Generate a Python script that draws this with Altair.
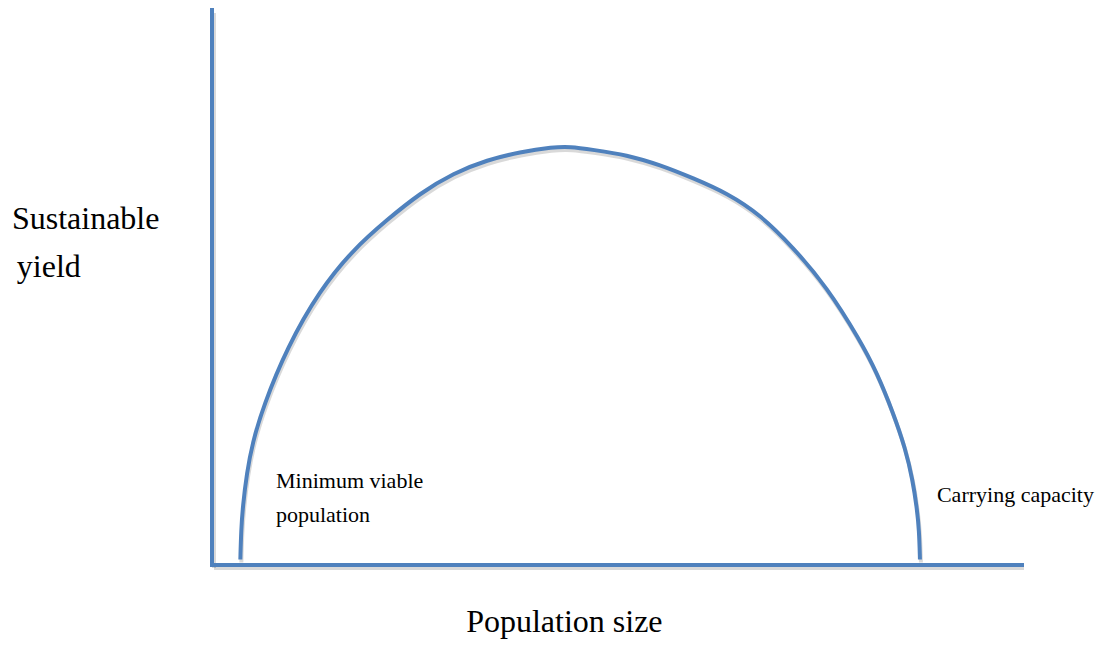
import altair as alt
import pandas as pd

# Yield curve (population size units, sustainable yield units)
pop_size = [3.5, 3.6, 3.8, 4.3, 5.0, 6.3, 9.3, 13.3, 17.4, 21.6, 25.7, 29.8, 34.0, 38.0,
            42.1, 44.2, 47.0, 51.2, 55.3, 59.4, 63.6, 67.7, 71.7, 75.9, 80.0, 82.1, 84.1,
            85.6, 86.5, 87.0, 87.3, 87.4]
sus_yield = [1.0, 6.3, 10.5, 16.6, 22.0, 28.5, 39.3, 49.5, 56.8, 62.2, 67.0, 70.6, 73.0,
             74.4, 75.3, 75.4, 74.8, 73.9, 72.1, 69.7, 67.0, 63.1, 57.3, 50.1, 40.5, 34.6,
             27.4, 21.0, 15.3, 10.5, 6.3, 1.0]

# Axis extents
x_max = 100
y_max = 100

# Annotations
label_text = ["Sustainable", "yield", "Population size", "Minimum viable", "population",
              "Carrying capacity"]
label_x = [-24.7, -24.1, 43.5, 7.9, 7.9, 89.5]
label_y = [60.5, 51.9, -12.1, 13.9, 7.7, 11.4]
label_size = [32, 32, 32, 22, 22, 22]
label_align = ["left", "left", "center", "left", "left", "left"]

BLUE = "#4f81bd"
FONT = "Liberation Serif"

curve = pd.DataFrame({"x": pop_size, "y": sus_yield, "i": range(len(pop_size))})
xs = alt.Scale(domain=[0, x_max])
ys = alt.Scale(domain=[0, y_max])

shadow_curve = alt.Chart(curve).mark_line(
    color="#000000", opacity=0.15, strokeWidth=4, xOffset=1, yOffset=3, interpolate="basis"
).encode(x=alt.X("x:Q", scale=xs, axis=None), y=alt.Y("y:Q", scale=ys, axis=None), order="i:Q")

line = alt.Chart(curve).mark_line(
    color=BLUE, strokeWidth=4, interpolate="basis"
).encode(x=alt.X("x:Q", scale=xs, axis=None), y=alt.Y("y:Q", scale=ys, axis=None), order="i:Q")

axes_df = pd.DataFrame({"x": [0, 0], "x2": [0, x_max], "y": [0, 0], "y2": [y_max, 0]})
shadow_axes = alt.Chart(axes_df).mark_rule(
    color="#000000", opacity=0.15, strokeWidth=4, xOffset=2, yOffset=3, x2Offset=2, y2Offset=3
).encode(
    x=alt.X("x:Q", scale=xs, axis=None), x2="x2:Q",
    y=alt.Y("y:Q", scale=ys, axis=None), y2="y2:Q",
)
axes = alt.Chart(axes_df).mark_rule(color=BLUE, strokeWidth=4, strokeCap="square").encode(
    x=alt.X("x:Q", scale=xs, axis=None), x2="x2:Q",
    y=alt.Y("y:Q", scale=ys, axis=None), y2="y2:Q",
)

labels = pd.DataFrame({"t": label_text, "x": label_x, "y": label_y, "s": label_size,
                       "a": label_align})
texts = []
for a in ["left", "center"]:
    for s in [32, 22]:
        sub = labels[(labels.a == a) & (labels.s == s)]
        if len(sub) == 0:
            continue
        texts.append(
            alt.Chart(sub).mark_text(
                font=FONT, fontSize=s, align=a, baseline="alphabetic", color="#000000"
            ).encode(
                x=alt.X("x:Q", scale=xs, axis=None),
                y=alt.Y("y:Q", scale=ys, axis=None),
                text="t:N",
            )
        )

chart = alt.layer(shadow_axes, shadow_curve, axes, line, *texts).properties(
    width=810, height=555,
    autosize=alt.AutoSizeParams(type="none"),
    padding={"left": 204, "top": 2, "right": 73, "bottom": 76},
).configure_view(stroke=None)

chart.save("out.html", embed_options={"renderer": "svg", "actions": False})
